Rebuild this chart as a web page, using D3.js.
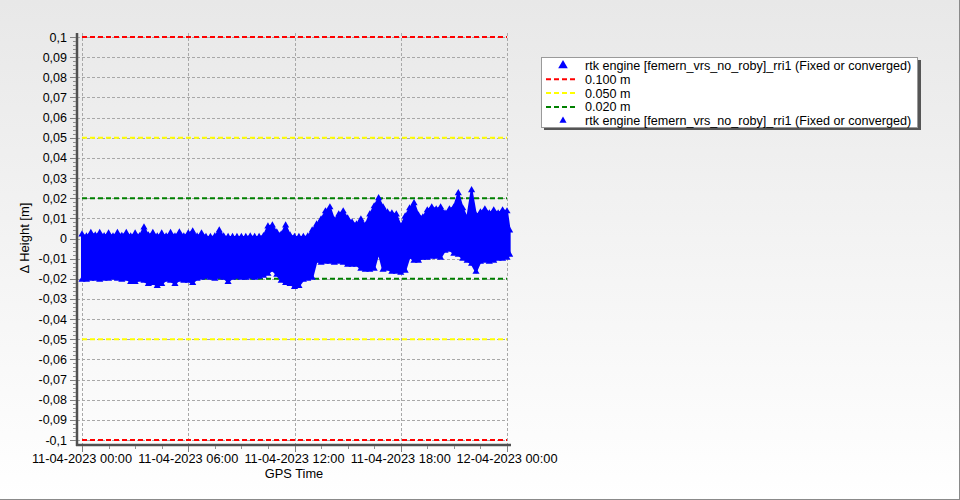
<!DOCTYPE html>
<html><head><meta charset="utf-8">
<script src="https://cdn.jsdelivr.net/npm/d3@7"></script>
<style>body{margin:0;}svg{display:block;}</style>
</head><body>
<svg id="c" width="960" height="500"></svg>
<script>
// ---- data ----
const hours = [0,0.25,0.5,0.75,1,1.25,1.5,1.75,2,2.25,2.5,2.75,3,3.25,3.5,3.75,4,4.25,4.5,4.75,5,5.25,5.5,5.75,6,6.25,6.5,6.75,7,7.25,7.5,7.75,8,8.25,8.5,8.75,9,9.25,9.5,9.75,10,10.25,10.5,10.75,11,11.25,11.5,11.75,12,12.25,12.5,12.75,13,13.25,13.5,13.75,14,14.25,14.5,14.75,15,15.25,15.5,15.75,16,16.25,16.5,16.75,17,17.25,17.5,17.75,18,18.25,18.5,18.75,19,19.25,19.5,19.75,20,20.25,20.5,20.75,21,21.25,21.5,21.75,22,22.25,22.5,22.75,23,23.25,23.5,23.75,24,24.15];
const upper = [0.002,0.001,0.0028,0.0015,0.0028,0.0012,0.0025,0.001,0.0028,0.0013,0.0028,0.001,0.0025,0.0012,0.0055,0.0015,0.0028,0.001,0.0025,0.001,0.0028,0.001,0.003,0.001,0.0025,0.0035,0.001,0.0025,0.0008,0.0008,0.001,0.004,0.001,0.0008,0.0008,0.0008,0.0008,0.0008,0.001,0.0008,0.0008,0.0012,0.006,0.0065,0.003,0.002,0.0065,0.0015,0.0008,0.0008,0.0008,0.001,0.004,0.007,0.0095,0.0135,0.0155,0.009,0.012,0.0135,0.01,0.008,0.007,0.0095,0.0065,0.012,0.016,0.02,0.0155,0.013,0.0125,0.012,0.006,0.011,0.015,0.0175,0.0115,0.0105,0.014,0.0155,0.0145,0.0155,0.0125,0.0145,0.0155,0.0225,0.015,0.01,0.024,0.0115,0.013,0.0145,0.0125,0.014,0.0125,0.014,0.0135,0.004];
const lower = [-0.0205,-0.0205,-0.02,-0.02,-0.0205,-0.02,-0.02,-0.0195,-0.02,-0.0205,-0.02,-0.0215,-0.0215,-0.0205,-0.021,-0.0225,-0.022,-0.0235,-0.0225,-0.0205,-0.021,-0.0225,-0.0205,-0.021,-0.021,-0.022,-0.02,-0.0195,-0.019,-0.0195,-0.02,-0.019,-0.0195,-0.0215,-0.0195,-0.019,-0.0195,-0.0195,-0.019,-0.0195,-0.019,-0.0185,-0.0175,-0.0155,-0.018,-0.021,-0.022,-0.0225,-0.024,-0.0235,-0.0205,-0.02,-0.0195,-0.011,-0.012,-0.0115,-0.0115,-0.012,-0.0115,-0.012,-0.013,-0.013,-0.013,-0.015,-0.0155,-0.0155,-0.015,-0.007,-0.0155,-0.015,-0.0165,-0.0165,-0.017,-0.016,-0.009,-0.011,-0.011,-0.0095,-0.0095,-0.009,-0.009,-0.0095,-0.006,-0.0055,-0.0075,-0.008,-0.01,-0.011,-0.0125,-0.0165,-0.0115,-0.011,-0.0115,-0.011,-0.01,-0.01,-0.0095,-0.008];
const yTicks = [0.1,0.09,0.08,0.07,0.06,0.05,0.04,0.03,0.02,0.01,0,-0.01,-0.02,-0.03,-0.04,-0.05,-0.06,-0.07,-0.08,-0.09,-0.1];
const xTickHours = [0,6,12,18,24];
const xTickLabels = ["11-04-2023 00:00","11-04-2023 06:00","11-04-2023 12:00","11-04-2023 18:00","12-04-2023 00:00"];
const refLevels = [0.1,0.05,0.02];
const refColors = ["#ff0000","#ffff00","#008000"];
const refLabels = ["0.100 m","0.050 m","0.020 m"];
const seriesName = "rtk engine [femern_vrs_no_roby]_rri1 (Fixed or converged)";

// ---- chart ----
const svg = d3.select("#c");
const W = 960, H = 500;
const defs = svg.append("defs");
const g = defs.append("linearGradient").attr("id","bg").attr("x1",0).attr("y1",0).attr("x2",0).attr("y2",1);
g.append("stop").attr("offset","0%").attr("stop-color","#e8e8e8");
g.append("stop").attr("offset","100%").attr("stop-color","#ffffff");
svg.append("rect").attr("width",W).attr("height",H).attr("fill","url(#bg)");
svg.append("line").attr("x1",959.5).attr("x2",959.5).attr("y1",0).attr("y2",500).attr("stroke","#8a8a8a");
svg.append("line").attr("x1",0).attr("x2",960).attr("y1",499.5).attr("y2",499.5).attr("stroke","#8a8a8a");

const x = d3.scaleLinear().domain([0,24]).range([82,507]);
const y = d3.scaleLinear().domain([-0.1,0.1]).range([440,37]);
const font = "Liberation Sans, Arial, sans-serif";

// grid
const grid = svg.append("g");
grid.selectAll("line.h").data(yTicks).join("line")
  .attr("x1",77).attr("x2",x(24)).attr("y1",d=>Math.round(y(d))+0.5).attr("y2",d=>Math.round(y(d))+0.5)
  .attr("stroke","#a8a8a8").attr("stroke-dasharray","3,2");
grid.selectAll("line.v").data(xTickHours).join("line")
  .attr("x1",d=>Math.round(x(d))+0.5).attr("x2",d=>Math.round(x(d))+0.5).attr("y1",33).attr("y2",445)
  .attr("stroke","#a8a8a8").attr("stroke-dasharray","3,2");

// reference lines
refLevels.forEach((lv,i)=>{
  [lv,-lv].forEach(v=>{
    svg.append("line").attr("x1",x(0)).attr("x2",x(24)).attr("y1",y(v)).attr("y2",y(v))
      .attr("stroke",refColors[i]).attr("stroke-width",2).attr("stroke-dasharray","5,3");
  });
});

// data band
const pts = hours.map((h,i)=>({h,hi:upper[i],lo:lower[i]}));
const area = d3.area().x(d=>x(d.h)).y0(d=>y(d.lo)).y1(d=>y(d.hi)).curve(d3.curveLinear);
svg.append("path").datum(pts).attr("d",area).attr("fill","#0000ff").attr("stroke","#0000ff").attr("stroke-width",2);
const tri = d3.symbol().type(d3.symbolTriangle).size(22);
svg.append("g").selectAll("path").data(pts.flatMap(d=>[{h:d.h,v:d.hi},{h:d.h,v:d.lo}])).join("path")
  .attr("d",tri).attr("transform",d=>`translate(${x(d.h)},${y(d.v)})`).attr("fill","#0000ff");

// axes
svg.append("line").attr("x1",77).attr("x2",77).attr("y1",33).attr("y2",446).attr("stroke","#505050").attr("stroke-width",2.5);
svg.append("line").attr("x1",76).attr("x2",511).attr("y1",445).attr("y2",445).attr("stroke","#505050").attr("stroke-width",2.5);
const yMinor = d3.range(-0.1,0.1001,0.002);
svg.append("g").selectAll("line").data(yMinor).join("line")
  .attr("x1",73).attr("x2",76).attr("y1",d=>Math.round(y(d))+0.5).attr("y2",d=>Math.round(y(d))+0.5).attr("stroke","#909090");
svg.append("g").selectAll("line").data(yTicks).join("line")
  .attr("x1",70).attr("x2",76).attr("y1",d=>Math.round(y(d))+0.5).attr("y2",d=>Math.round(y(d))+0.5).attr("stroke","#808080");
svg.append("g").selectAll("text").data(yTicks).join("text")
  .attr("x",67).attr("y",d=>y(d)+4.5).attr("text-anchor","end")
  .attr("font-family",font).attr("font-size",12.5).attr("fill","#000")
  .text(d=>d3.format("")(+d.toFixed(2)).replace(".",",").replace("−","-"));
const xMinor = d3.range(0,24.01,1.5);
svg.append("g").selectAll("line").data(xMinor).join("line")
  .attr("x1",d=>Math.round(x(d))+0.5).attr("x2",d=>Math.round(x(d))+0.5).attr("y1",446).attr("y2",449).attr("stroke","#909090");
svg.append("g").selectAll("line").data(xTickHours).join("line")
  .attr("x1",d=>Math.round(x(d))+0.5).attr("x2",d=>Math.round(x(d))+0.5).attr("y1",446).attr("y2",452).attr("stroke","#808080");
svg.append("g").selectAll("text").data(xTickHours).join("text")
  .attr("x",d=>x(d)).attr("y",463).attr("text-anchor","middle")
  .attr("font-family",font).attr("font-size",12.8).attr("fill","#000")
  .text((d,i)=>xTickLabels[i]);
svg.append("text").attr("x",294).attr("y",478).attr("text-anchor","middle")
  .attr("font-family",font).attr("font-size",12.8).text("GPS Time");
svg.append("text").attr("transform","translate(29,238) rotate(-90)").attr("text-anchor","middle")
  .attr("font-family",font).attr("font-size",13).text("Δ Height [m]");

// legend
const lg = svg.append("g");
lg.append("rect").attr("x",544).attr("y",60).attr("width",377).attr("height",70).attr("fill","#555");
lg.append("rect").attr("x",541.5).attr("y",57.5).attr("width",376).attr("height",70).attr("fill","#fff").attr("stroke","#9a9a9a");
const rows = [
  {type:"tri",size:40,label:seriesName},
  {type:"line",color:refColors[0],label:refLabels[0]},
  {type:"line",color:refColors[1],label:refLabels[1]},
  {type:"line",color:refColors[2],label:refLabels[2]},
  {type:"tri",size:22,label:seriesName}
];
rows.forEach((r,i)=>{
  const cy = 65.5 + i*13.8;
  if(r.type==="tri"){
    lg.append("path").attr("d",d3.symbol().type(d3.symbolTriangle).size(r.size)()).attr("transform",`translate(563,${cy})`).attr("fill","#0000ff");
  } else {
    lg.append("line").attr("x1",546).attr("x2",576).attr("y1",cy).attr("y2",cy).attr("stroke",r.color).attr("stroke-width",2).attr("stroke-dasharray","5,3");
  }
  lg.append("text").attr("x",585).attr("y",cy+4.5).attr("font-family",font).attr("font-size",12.6).text(r.label);
});
</script>
</body></html>
